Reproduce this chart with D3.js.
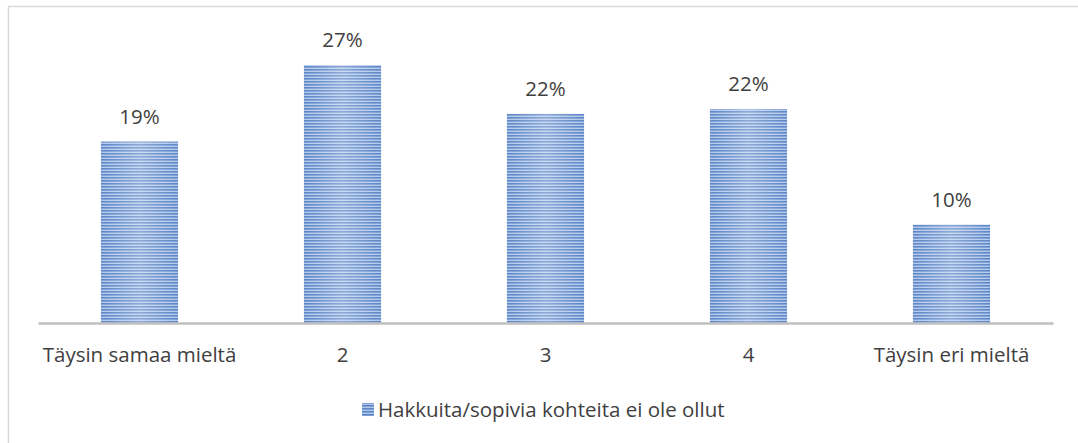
<!DOCTYPE html>
<html><head><meta charset="utf-8">
<script src="https://cdn.jsdelivr.net/npm/d3@7"></script>
<style>body{margin:0;background:#fff;} svg{display:block;font-family:"Open Sans",sans-serif;}</style>
</head><body>
<svg id="c" width="1078" height="443"></svg>
<script>
const categories = ["Täysin samaa mieltä", "2", "3", "4", "Täysin eri mieltä"];
const values = [19.0, 27.0, 21.9, 22.4, 10.3];
const labels = ["19%", "27%", "22%", "22%", "10%"];
const seriesName = "Hakkuita/sopivia kohteita ei ole ollut";

const svg = d3.select("#c");
const W = 1078, H = 443;
svg.append("rect").attr("x", 8.5).attr("y", 6.5).attr("width", W).attr("height", H)
  .attr("fill", "#fff").attr("stroke", "#d9d9d9").attr("stroke-width", 1.5);

const defs = svg.append("defs");
const pat = defs.append("pattern").attr("id", "stripes").attr("patternUnits", "userSpaceOnUse")
  .attr("width", 8).attr("height", 3);
pat.append("rect").attr("width", 8).attr("height", 3).attr("fill", "#b4c9ea");
pat.append("rect").attr("y", 0).attr("width", 8).attr("height", 1.6).attr("fill", "#5b86c8");
const grad = defs.append("linearGradient").attr("id", "shine").attr("x1", "0").attr("x2", "1").attr("y1", "0").attr("y2", "0");
grad.append("stop").attr("offset", "0").attr("stop-color", "#fff").attr("stop-opacity", 0);
grad.append("stop").attr("offset", "0.5").attr("stop-color", "#fff").attr("stop-opacity", 0.3);
grad.append("stop").attr("offset", "1").attr("stop-color", "#fff").attr("stop-opacity", 0);

const x = d3.scaleBand().domain(categories).range([38, 1053]).paddingInner(0.62).paddingOuter(0.31);
const y = d3.scaleLinear().domain([0, 30]).range([323, 36.5]);

const g = svg.append("g");
categories.forEach((c, i) => {
  g.append("rect").attr("x", x(c)).attr("y", y(values[i])).attr("width", x.bandwidth())
    .attr("height", y(0) - y(values[i])).attr("fill", "url(#stripes)");
  g.append("rect").attr("x", x(c)).attr("y", y(values[i])).attr("width", x.bandwidth())
    .attr("height", y(0) - y(values[i])).attr("fill", "url(#shine)");
  g.append("text").attr("x", x(c) + x.bandwidth() / 2).attr("y", y(values[i]) - 18)
    .attr("text-anchor", "middle").attr("font-size", 20.5).attr("fill", "#404040").text(labels[i]);
});

const axis = d3.axisBottom(x).tickSize(0).tickPadding(0);
const ax = svg.append("g").attr("transform", "translate(0,323)").call(axis);
ax.select(".domain").attr("stroke", "#bfbfbf").attr("stroke-width", 2.5);
ax.selectAll("text").attr("font-size", 20.5).attr("fill", "#404040").attr("dy", null).attr("y", 39)
  .style("font-family", "'Open Sans',sans-serif");

const leg = svg.append("g");
leg.append("rect").attr("x", 362).attr("y", 403).attr("width", 12).attr("height", 13).attr("fill", "url(#stripes)");
leg.append("text").attr("x", 378).attr("y", 417).attr("font-size", 20.5).attr("fill", "#404040").text(seriesName);
</script>
</body></html>
